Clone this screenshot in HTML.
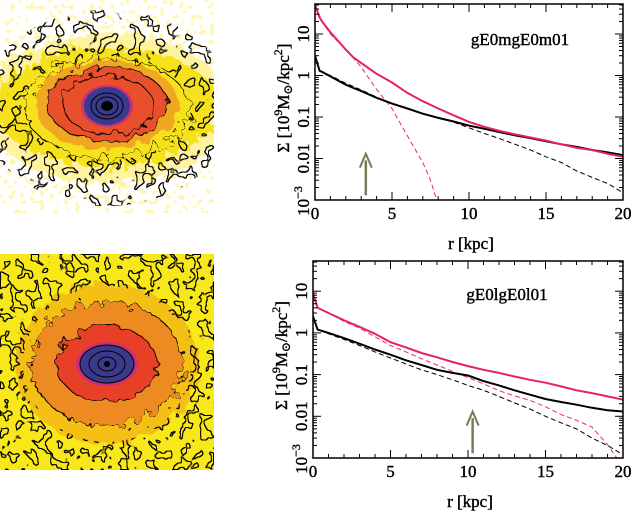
<!DOCTYPE html>
<html><head><meta charset="utf-8"><style>
html,body{margin:0;padding:0;background:#fff;width:633px;height:515px;overflow:hidden}
svg{display:block}
text{font-family:"Liberation Serif","DejaVu Serif",serif;fill:#000}
</style></head><body>
<svg id="fig" width="633" height="515" viewBox="0 0 633 515" xmlns="http://www.w3.org/2000/svg">
<defs>
<filter id="rough" x="-20%" y="-20%" width="140%" height="140%"><feTurbulence type="fractalNoise" baseFrequency="0.09" numOctaves="2" seed="3"/><feDisplacementMap in="SourceGraphic" scale="14"/></filter>
<filter id="rough2" x="-20%" y="-20%" width="140%" height="140%"><feTurbulence type="fractalNoise" baseFrequency="0.12" numOctaves="2" seed="7"/><feDisplacementMap in="SourceGraphic" scale="24"/></filter>
<filter id="blobs1" x="0" y="0" width="100%" height="100%">
  <feTurbulence type="fractalNoise" baseFrequency="0.09" numOctaves="2" seed="5" result="n"/>
  <feColorMatrix in="n" type="matrix" values="0 0 0 0 0  0 0 0 0 0  0 0 0 0 0  0 0 0 -30 13.2" result="m"/>
  <feMorphology in="m" operator="erode" radius="1" result="e"/>
  <feComposite in="m" in2="e" operator="out" result="edge"/>
  <feComposite in="edge" in2="SourceGraphic" operator="in"/>
</filter>
<filter id="blobs2" x="0" y="0" width="100%" height="100%">
  <feTurbulence type="fractalNoise" baseFrequency="0.1" numOctaves="2" seed="9" result="n"/>
  <feColorMatrix in="n" type="matrix" values="0 0 0 0 0  0 0 0 0 0  0 0 0 0 0  0 0 0 -30 13.8" result="m"/>
  <feMorphology in="m" operator="erode" radius="1" result="e"/>
  <feComposite in="m" in2="e" operator="out" result="edge"/>
  <feComposite in="edge" in2="SourceGraphic" operator="in"/>
</filter>
<filter id="specks" x="0" y="0" width="100%" height="100%">
  <feTurbulence type="fractalNoise" baseFrequency="0.2" numOctaves="1" seed="13" result="n"/>
  <feColorMatrix in="n" type="matrix" values="0 0 0 0 1  0 0 0 0 0.93  0 0 0 0 0.45  0 0 0 -25 10.5" result="m"/>
  <feComposite in="m" in2="SourceGraphic" operator="in"/>
</filter>
<clipPath id="c1"><rect x="0" y="0" width="214" height="213"/></clipPath>
<clipPath id="c2"><rect x="0" y="254" width="214" height="216"/></clipPath>
</defs>
<!-- top map -->
<g clip-path="url(#c1)">
<rect x="0" y="0" width="214" height="213" fill="#000" filter="url(#specks)"/>
<ellipse cx="107" cy="108" rx="122" ry="76" fill="#fff3a0" filter="url(#rough2)"/>
<ellipse cx="107" cy="107" rx="112" ry="60" fill="#f6e21a" filter="url(#rough2)"/>
<ellipse cx="107" cy="105" rx="72" ry="45" fill="#f0a820" filter="url(#rough)"/>
<ellipse cx="107" cy="104" rx="60" ry="37" fill="#e8502a" stroke="#000" stroke-width="1" filter="url(#rough)"/>
<ellipse cx="108" cy="105" rx="45" ry="29" fill="none" stroke="#000" stroke-width="1" filter="url(#rough)"/>
<ellipse cx="107" cy="106" rx="26" ry="21" fill="#c8307a"/>
<ellipse cx="107" cy="106" rx="23" ry="19" fill="#3a3a8c"/>
<ellipse cx="107" cy="106" rx="16" ry="13" fill="none" stroke="#000"/>
<ellipse cx="107" cy="106" rx="11" ry="9" fill="none" stroke="#000"/>
<ellipse cx="107" cy="106" rx="6" ry="5" fill="#000"/>
<ellipse cx="107" cy="108" rx="82" ry="50" fill="none" stroke="#000" stroke-width="1" filter="url(#rough2)"/>
<path d="M-20,108 a127,98 0 1,0 254,0 a127,98 0 1,0 -254,0 Z M23,108 a84,52 0 1,1 168,0 a84,52 0 1,1 -168,0 Z" fill="#000" fill-rule="evenodd" filter="url(#blobs1)"/>
</g>
<!-- bottom map -->
<g clip-path="url(#c2)">
<rect x="0" y="254" width="214" height="216" fill="#f8e81a"/>
<ellipse cx="107" cy="364" rx="92" ry="80" fill="#f4c018" filter="url(#rough)"/>
<ellipse cx="107" cy="364" rx="76" ry="62" fill="#ee8a22" stroke="#000" filter="url(#rough2)"/>
<ellipse cx="107" cy="364" rx="50" ry="38" fill="#e84028" stroke="#000" filter="url(#rough)"/>
<ellipse cx="107" cy="364" rx="31" ry="22" fill="#c8307a"/>
<ellipse cx="107" cy="364" rx="27" ry="19" fill="#3a3a8c" stroke="#000"/>
<ellipse cx="107" cy="364" rx="18" ry="13" fill="none" stroke="#000"/>
<ellipse cx="107" cy="364" rx="9" ry="7" fill="none" stroke="#000"/>
<ellipse cx="107" cy="364" rx="3" ry="3" fill="#000"/>
<path d="M0,254 H214 V470 H0 Z M107,286 a84,78 0 1,0 0.1,0 Z" fill="#000" fill-rule="evenodd" filter="url(#blobs2)"/>
</g>
<g id="panels"></g>
</svg>
<script>
// ---- data: panel 1 (gE0mgE0m01) ----
const p1_r = [0,0.3,0.5,1,2,2.5,3,4,5,6,7,8,9,10,11,12,13,14,15,16,17,18,19,20];
const p1_redSolid = [50,25,19,11,4.2,2.7,2.0,1.1,0.68,0.38,0.24,0.16,0.11,0.076,0.058,0.046,0.038,0.032,0.027,0.022,0.018,0.016,0.013,0.011];
const p1_blackSolid = [3,1.3,1.2,0.95,0.6,0.5,0.42,0.29,0.21,0.16,0.12,0.095,0.078,0.062,0.052,0.043,0.036,0.031,0.026,0.022,0.019,0.016,0.014,0.012];
const p1_dr = [0,0.5,1,2,3,4,5,6,7,7.5,7.9];
const p1_redDashed = [50,19,10,4.2,1.6,0.46,0.16,0.035,0.008,0.003,0.001];
const p1_bdr = [0,0.3,1,2,3,4,5,6,7,8,9,10,11,12,13,14,15,16,17,18,19,20];
const p1_blackDashed = [3,1.3,1.0,0.65,0.45,0.3,0.21,0.16,0.12,0.095,0.075,0.055,0.04,0.03,0.022,0.016,0.011,0.008,0.005,0.0035,0.0025,0.0015];
const p1_arrow = 3.3;
// ---- data: panel 2 (gE0lgE0l01) ----
const p2_r = [0,0.3,1,2,3,4,5,6,7,8,9,10,11,12,13,14,15,16,17,18,19,20];
const p2_redSolid = [9,4,3,2,1.4,0.95,0.6,0.45,0.33,0.26,0.2,0.16,0.13,0.11,0.09,0.075,0.064,0.052,0.042,0.036,0.03,0.025];
const p2_blackSolid = [2.5,1.2,1.0,0.75,0.55,0.4,0.3,0.22,0.17,0.13,0.11,0.095,0.07,0.055,0.042,0.033,0.026,0.022,0.019,0.016,0.014,0.013];
const p2_dr = [0,0.3,1,2,3,4,5,6,7,8,9,10,11,12,13,14,15,16,17,18,19,19.6];
const p2_redDashed = [9,4,3,1.9,1.3,0.8,0.5,0.35,0.24,0.17,0.12,0.085,0.06,0.041,0.031,0.024,0.017,0.011,0.008,0.0055,0.0021,0.001];
const p2_bdr = [0,0.3,1,2,3,4,5,6,7,8,9,10,11,12,13,14,15,16,17,18,19,20];
const p2_blackDashed = [2.5,1.2,0.95,0.7,0.5,0.35,0.25,0.18,0.13,0.1,0.075,0.055,0.042,0.03,0.021,0.015,0.01,0.007,0.005,0.003,0.002,0.0012];
const p2_arrow = 10.3;
const xTicks = [0,5,10,15,20];
const yTickLabels = ["10","1","0.1","0.01"];
const yTickVals = [10,1,0.1,0.01];

const NS="http://www.w3.org/2000/svg";
const root=document.getElementById('panels');
function mk(tag,attrs,parent){const e=document.createElementNS(NS,tag);for(const k in attrs)e.setAttribute(k,attrs[k]);(parent||root).appendChild(e);return e;}
const SANS='"Liberation Sans","DejaVu Sans",sans-serif';
const TS={'font-size':17,stroke:'#000','stroke-width':0.4};

function panel(name,F,label,r,rs,bs,dr,rd,bdr,bd,arrowX,lx,ly){
  const g=mk('g',{});
  
  
  const X=v=>F.x0+(v/20)*(F.x1-F.x0);
  const Y=v=>F.yb-(Math.log10(v)+3)*F.dec;
  const cid=name+'-clip';
  const cp=mk('clipPath',{id:cid},g);mk('rect',{x:F.x0,y:F.yt,width:F.x1-F.x0,height:F.yb-F.yt},cp);
  const series=(xs,ys,color,w,dash,nm)=>{
    const d=xs.map((x,i)=>(i?'L':'M')+X(x).toFixed(1)+','+Y(ys[i]).toFixed(1)).join(' ');
    const p=mk('path',{d:d,fill:'none',stroke:color,'stroke-width':w,'clip-path':'url(#'+cid+')'},g);
    if(dash)p.setAttribute('stroke-dasharray',dash);
    
    
  };
  series(dr,rd,'#e8305a',1,'5,3','red-dashed-line');
  series(bdr,bd,'#000',1,'5,3','black-dashed-line');
  series(r,bs,'#000',2,null,'black-solid-line');
  series(r,rs,'#e8225a',2,null,'red-solid-line');
  const ax=X(arrowX);
  const a=mk('g',{},g);
  
  
  mk('line',{x1:ax,y1:Y(0.0013),x2:ax,y2:Y(0.009),stroke:'#7a7a5a','stroke-width':2.5},a);
  mk('path',{d:`M${ax-6},${Y(0.006)} L${ax},${Y(0.013)} L${ax+6},${Y(0.006)}`,fill:'none',stroke:'#7a7a5a','stroke-width':2},a);
  const fr=mk('rect',{x:F.x0,y:F.yt,width:F.x1-F.x0,height:F.yb-F.yt,fill:'none',stroke:'#000','stroke-width':1.5},g);
  
  
  for(let v=0;v<=20;v++){const major=v%5===0;const L=major?8:4;const x=X(v);
    mk('line',{x1:x,y1:F.yb,x2:x,y2:F.yb-L,stroke:'#000'},g);
    mk('line',{x1:x,y1:F.yt,x2:x,y2:F.yt+L,stroke:'#000'},g);}
  xTicks.forEach(v=>{const t=mk('text',Object.assign({x:X(v),y:F.yb+19,'text-anchor':'middle','font-family':SANS},TS),g);t.textContent=v;
    });
  for(let dcd=-3;dcd<=1;dcd++){for(let m=1;m<=9;m++){const v=m*Math.pow(10,dcd);const y=Y(v);if(y<F.yt)continue;
    const L=m===1?8:4;mk('line',{x1:F.x0,y1:y,x2:F.x0+L,y2:y,stroke:'#000'},g);mk('line',{x1:F.x1,y1:y,x2:F.x1-L,y2:y,stroke:'#000'},g);}}
  const tx=F.x0-6;
  yTickVals.forEach((v,i)=>{const t=mk('text',Object.assign({x:tx,y:Y(v),'text-anchor':'middle','font-family':SANS,transform:`rotate(-90 ${tx} ${Y(v)})`},TS),g);t.textContent=yTickLabels[i];
    });
  const t3=mk('text',Object.assign({x:tx,y:F.yb+1,'text-anchor':'middle','font-family':SANS,transform:`rotate(-90 ${tx} ${F.yb+1})`},TS),g);
  t3.innerHTML='10<tspan dy="-7" font-size="12">−3</tspan>';
  
  const yc=(F.yt+F.yb)/2-4, yx=F.x0-26;
  const yt=mk('text',Object.assign({x:yx,y:yc,'text-anchor':'middle',transform:`rotate(-90 ${yx} ${yc})`},TS),g);
  yt.innerHTML='Σ [10<tspan dy="-7" font-size="12">9</tspan><tspan dy="7">M</tspan><tspan dy="3" font-size="12">⊙</tspan><tspan dy="-3">/kpc</tspan><tspan dy="-7" font-size="12">2</tspan><tspan dy="7">]</tspan>';
  
  const xt=mk('text',Object.assign({x:(F.x0+F.x1)/2+2,y:F.yb+49,'text-anchor':'middle'},TS),g);xt.textContent='r [kpc]';
  
  const lb=mk('text',Object.assign({x:lx,y:ly,'text-anchor':'middle'},TS),g);lb.textContent=label;
  
}
panel('panel-gE0mgE0m01',{x0:315,x1:623,yt:4,yb:200,dec:41.5},'gE0mgE0m01',p1_r,p1_redSolid,p1_blackSolid,p1_dr,p1_redDashed,p1_bdr,p1_blackDashed,p1_arrow,520,45);
panel('panel-gE0lgE0l01',{x0:313,x1:623,yt:261,yb:458,dec:41.7},'gE0lgE0l01',p2_r,p2_redSolid,p2_blackSolid,p2_dr,p2_redDashed,p2_bdr,p2_blackDashed,p2_arrow,507,300);
</script>
</body></html>
